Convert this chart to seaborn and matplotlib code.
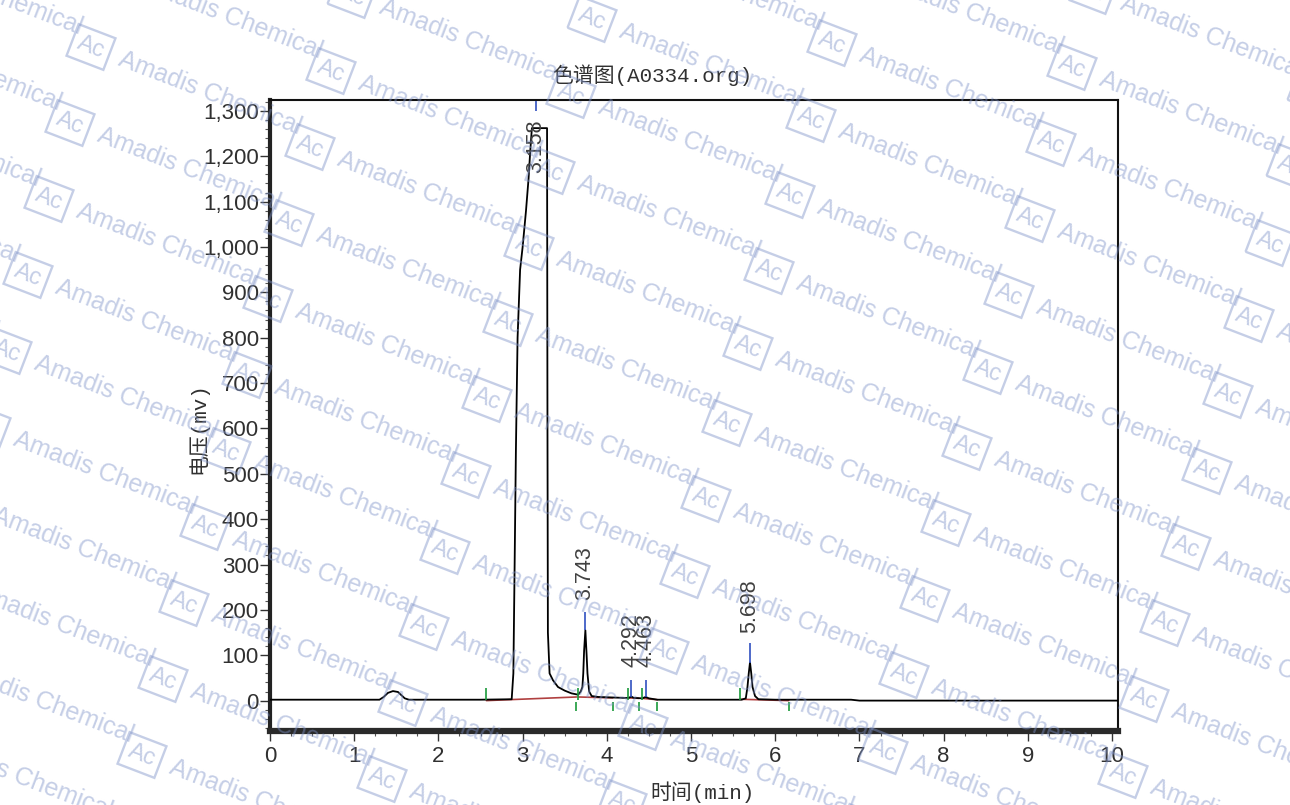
import numpy as np
import pandas as pd
import matplotlib
matplotlib.use("Agg")
import matplotlib.pyplot as plt
import seaborn as sns
from matplotlib.ticker import MultipleLocator, FuncFormatter

# ---------------- data ----------------
time_min = [0.00, 0.40, 1.00, 1.30, 1.35, 1.40, 1.46, 1.52, 1.56, 1.60, 1.65,
            2.50, 2.87, 2.89, 2.905, 2.92, 2.94, 2.97, 3.00, 3.04, 3.07, 3.09,
            3.11, 3.29, 3.295, 3.30, 3.32, 3.36, 3.42, 3.50, 3.58, 3.66, 3.69,
            3.71, 3.72, 3.73, 3.745, 3.76, 3.77, 3.79, 3.82, 3.90, 4.20, 4.26,
            4.29, 4.32, 4.42, 4.46, 4.50, 4.60, 5.60, 5.65, 5.67, 5.685, 5.70,
            5.715, 5.73, 5.76, 5.80, 6.00, 6.90, 7.00, 10.07]
signal_mv = [2, 2, 2, 2, 8, 17, 21, 19, 12, 5, 2,
             2, 3, 60, 300, 550, 800, 950, 1000, 1080, 1150, 1210,
             1262, 1262, 600, 150, 60, 45, 30, 22, 16, 13, 20,
             30, 60, 110, 155, 100, 60, 20, 10, 8, 6, 6,
             9, 6, 5, 8, 5, 2, 2, 5, 30, 60, 84,
             60, 30, 10, 3, 2, 2, 0, 0]

peak_times = [3.158, 3.743, 4.292, 4.463, 5.698]
peak_labels = ["3.158", "3.743", "4.292", "4.463", "5.698"]
apex_marker_low = [1300, 155, 8, 8, 84]
apex_marker_high = [1322, 195, 46, 46, 126]
label_base_mv = [1163, 221, 73, 73, 148]

start_marks = [2.57, 3.66, 4.25, 4.42, 5.58]
end_marks = [3.63, 4.07, 4.38, 4.60, 6.16]
baseline_t0 = [2.57, 3.66, 4.25, 4.42, 5.58]
baseline_t1 = [3.64, 4.07, 4.38, 4.60, 6.16]
baseline_v0 = [0, 8, 6, 5, 3]
baseline_v1 = [8, 6, 5, 2, 0]

# ---------------- figure ----------------
sns.set_theme(style="white")
plt.rcParams["font.family"] = ["Liberation Sans", "DejaVu Sans"]

W, H = 1290, 805
fig = plt.figure(figsize=(W / 100, H / 100), dpi=100)
fig.patch.set_facecolor("white")
ax = fig.add_axes([270 / W, 1 - 731 / H, (1118 - 270) / W, (731 - 100) / H])
ax.set_facecolor("white")

df = pd.DataFrame({"t": time_min, "mv": signal_mv})
sns.lineplot(data=df, x="t", y="mv", ax=ax, color="black", lw=1.3,
             estimator=None, sort=False, zorder=3)

# integration baseline
for t0, t1, v0, v1 in zip(baseline_t0, baseline_t1, baseline_v0, baseline_v1):
    ax.plot([t0, t1], [v0, v1], color="#b04040", lw=1.2, zorder=2)
# start / end markers
for t in start_marks:
    ax.vlines(t, 2, 28, color="#1a9a3a", lw=1.2, zorder=4)
for t in end_marks:
    ax.vlines(t, -4, -24, color="#1a9a3a", lw=1.2, zorder=4)
# apex markers and labels
for t, lo, hi, lab, base in zip(peak_times, apex_marker_low, apex_marker_high,
                                 peak_labels, label_base_mv):
    ax.vlines(t, lo, hi, color="#3050c0", lw=1.2, zorder=4)
    ax.text(t, base, lab, rotation=90, ha="center", va="bottom",
            fontsize=15.5, color="#404040", zorder=5)

ax.xaxis.set_minor_locator(MultipleLocator(0.25))
ax.yaxis.set_minor_locator(MultipleLocator(20))
ax.yaxis.set_major_formatter(FuncFormatter(lambda v, p: f"{int(round(v)):,}"))
ax.set_xticks(np.arange(0, 11, 1))
ax.set_yticks(np.arange(0, 1400, 100))
ax.set_ylim(-67, 1324)
ax.set_xlim(0, 10.07)

ax.tick_params(axis="both", which="major", direction="out", length=7, width=1,
               color="#333333", labelsize=16, labelcolor="#303030", pad=1,
               bottom=True, left=True)
ax.tick_params(axis="both", which="minor", direction="out", length=3.5,
               width=0.8, color="#555555", bottom=True, left=True)
ax.tick_params(axis="x", which="major", pad=4)
ax.set_xlabel("")
ax.set_ylabel("")

for side in ["top", "right"]:
    ax.spines[side].set_linewidth(1.5)
    ax.spines[side].set_color("#111111")
ax.spines["left"].set_linewidth(3)
ax.spines["left"].set_color("#222222")
ax.spines["bottom"].set_linewidth(4.5)
ax.spines["bottom"].set_color("#2a2a2a")

cjk = ["Liberation Mono", "Noto Sans CJK SC"]
fig.text(652 / W, 1 - 75 / H, "色谱图(A0334.org)", ha="center", va="center",
         fontsize=15, family=cjk, color="#303030")
fig.text(703 / W, 1 - 792 / H, "时间(min)", ha="center", va="center",
         fontsize=15, family=cjk, color="#303030")
fig.text(198 / W, 1 - 428 / H, "电压(mv)", ha="center", va="center",
         rotation=90, fontsize=15, family=cjk, color="#303030")

# ---------------- watermark ----------------
ang = 21.0
ux, uy = np.cos(np.radians(ang)), np.sin(np.radians(ang))
wm_col = "#7f93c9"
for i in range(-5, 4):
    for j in range(-2, 12):
        px = 832 + i * 240 - j * 21
        py = 43 + i * 24 + j * 76
        if px < -250 or px > W + 30 or py < -60 or py > H + 60:
            continue
        fig.text(px / W, 1 - py / H, "Ac", rotation=-ang, rotation_mode="anchor",
                 ha="center", va="center", fontsize=17, color=wm_col, alpha=0.45,
                 zorder=10,
                 bbox=dict(boxstyle="square,pad=0.25", fc="none", ec=wm_col,
                           lw=1.7, alpha=0.45))
        sx, sy = px + 31 * ux, py + 31 * uy
        fig.text(sx / W, 1 - sy / H, "Amadis Chemical", rotation=-ang,
                 rotation_mode="anchor", ha="left", va="center", fontsize=18,
                 color=wm_col, alpha=0.45, zorder=10)

fig.savefig("out.png", dpi=100, facecolor="white")
